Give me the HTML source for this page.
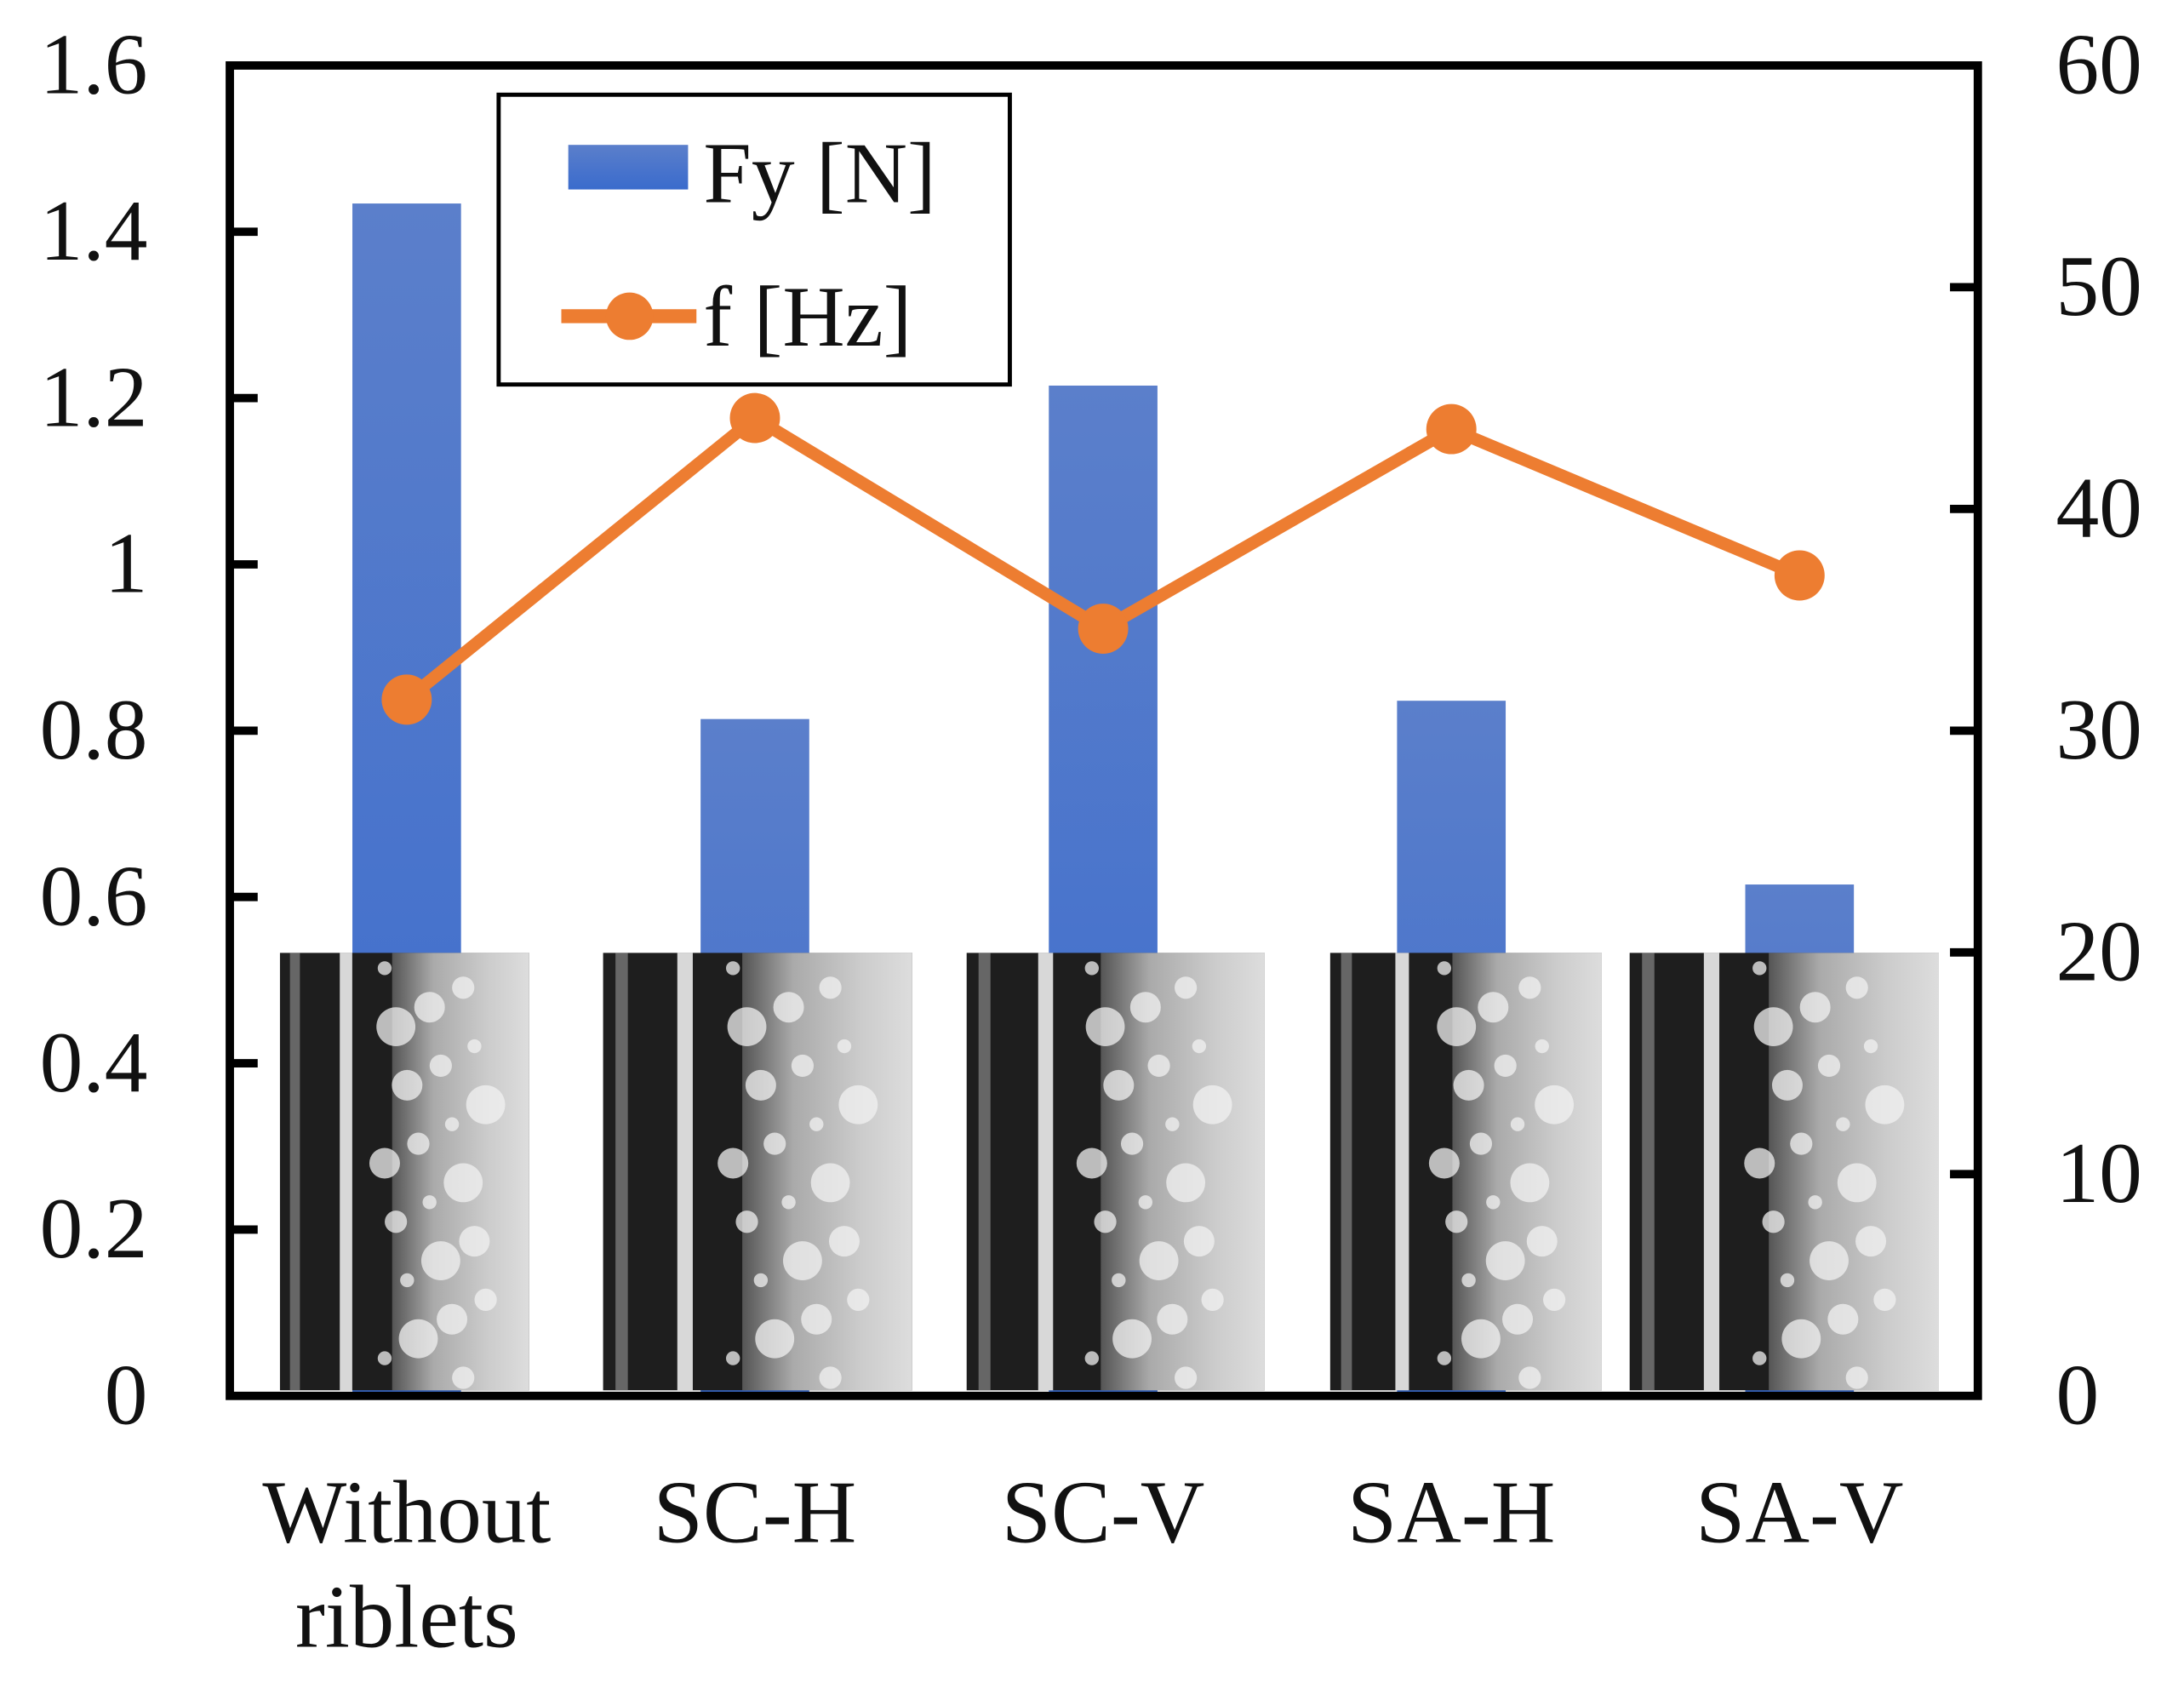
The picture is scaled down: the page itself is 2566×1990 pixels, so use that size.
<!DOCTYPE html>
<html><head><meta charset="utf-8"><style>
html,body{margin:0;padding:0;background:#fff;}
svg{display:block;}
text{font-family:"Liberation Serif",serif;fill:#111;}
</style></head><body>
<svg id="chart" width="2566" height="1990" viewBox="0 0 1568 1216" preserveAspectRatio="none" xmlns="http://www.w3.org/2000/svg">
<defs>
<linearGradient id="barg" x1="0" y1="0" x2="0" y2="1"><stop offset="0" stop-color="#5b7fcb"/><stop offset="1" stop-color="#3a6bcc"/></linearGradient>
<linearGradient id="fog" x1="0" y1="0" x2="1" y2="0"><stop offset="0" stop-color="#555"/><stop offset="0.3" stop-color="#aaa"/><stop offset="0.7" stop-color="#ccc"/><stop offset="1" stop-color="#ddd"/></linearGradient>
</defs>
<g id="bars"></g>
<g id="photos"></g>
<g id="frame"></g>
<g id="line"></g>
<g id="labels"></g>
<g>
<rect x="358" y="68" width="367" height="208" fill="#fff" stroke="#000" stroke-width="3"/>
<rect x="408" y="104" width="86" height="32" fill="url(#barg)"/>
<text x="505" y="145" font-size="62">Fy [N]</text>
<line x1="403" y1="227" x2="500" y2="227" stroke="#ed7d31" stroke-width="10"/>
<circle cx="452" cy="227" r="17" fill="#ed7d31"/>
<text x="505" y="248" font-size="62">f [Hz]</text>
</g>
</svg>
<script>
const categories=["Without riblets","SC-H","SC-V","SA-H","SA-V"];
const fyValues=[1.434,0.814,1.215,0.836,0.615];
const fValues=[31.4,44.1,34.6,43.6,37.0];
const leftTicks=[0,0.2,0.4,0.6,0.8,1,1.2,1.4,1.6];
const leftTickLabels=["0","0.2","0.4","0.6","0.8","1","1.2","1.4","1.6"];
const rightTicks=[0,10,20,30,40,50,60];
const NS="http://www.w3.org/2000/svg";
const X0=165,X1=1420,Y0=1002,Y1=47;
const yL=v=>Y0-(v/1.6)*(Y0-Y1);
const yR=v=>Y0-(v/60)*(Y0-Y1);
const xC=i=>292+i*250;
function mk(tag,attrs,parent){const e=document.createElementNS(NS,tag);for(const k in attrs)e.setAttribute(k,attrs[k]);parent.appendChild(e);return e;}
const bars=document.getElementById('bars');
fyValues.forEach((v,i)=>{
  const r=mk('rect',{x:xC(i)-39,y:yL(v),width:78,height:Y0-yL(v),fill:'url(#barg)'},bars);
  
  
});
const photos=document.getElementById('photos');
const ph=[[201,380],[433,655],[694,908],[955,1150],[1170,1392]];
ph.forEach((p,i)=>{
  const g=mk('g',{},photos);
  
  
  const w=p[1]-p[0];
  mk('rect',{x:p[0],y:684,width:w,height:314,fill:'#1e1e1e'},g);
  mk('rect',{x:p[0]+w*0.45,y:684,width:w*0.55,height:314,fill:'url(#fog)'},g);
  mk('rect',{x:p[0]+w*0.24,y:684,width:w*0.05,height:314,fill:'#d8d8d8'},g);
  mk('rect',{x:p[0]+w*0.04,y:684,width:w*0.04,height:314,fill:'#666'},g);
  for(let k=0;k<22;k++){
    mk('circle',{cx:p[0]+w*(0.42+0.045*((k*7)%10)),cy:695+k*14,r:5+(k%4)*3,fill:'#f2f2f2',opacity:0.75},g);
  }
});
const fr=document.getElementById('frame');
mk('rect',{x:X0,y:Y1,width:X1-X0,height:Y0-Y1,fill:'none',stroke:'#000','stroke-width':6},fr);
const lab=document.getElementById('labels');
leftTicks.forEach((v,i)=>{
  if(v>0&&v<1.6) mk('line',{x1:X0,y1:yL(v),x2:X0+20,y2:yL(v),stroke:'#000','stroke-width':6},fr);
  const t=mk('text',{x:106,y:yL(v)+20,'font-size':62,'text-anchor':'end'},lab);
  t.textContent=leftTickLabels[i];
  
  
});
rightTicks.forEach(v=>{
  if(v>0&&v<60) mk('line',{x1:X1-20,y1:yR(v),x2:X1,y2:yR(v),stroke:'#000','stroke-width':6},fr);
  const t=mk('text',{x:1476,y:yR(v)+20,'font-size':62},lab);
  t.textContent=String(v);
  
  
});
categories.forEach((c,i)=>{
  const parts=c==="Without riblets"?["Without","riblets"]:[c];
  parts.forEach((s,j)=>{
    const t=mk('text',{x:xC(i),y:1107+j*75,'font-size':64,'text-anchor':'middle'},lab);
    t.textContent=s;
    
    
  });
});
const ln=document.getElementById('line');
const pl=mk('polyline',{points:fValues.map((v,i)=>xC(i)+','+yR(v)).join(' '),fill:'none',stroke:'#ed7d31','stroke-width':9,'stroke-linejoin':'round'},ln);


fValues.forEach((v,i)=>{
  const c=mk('circle',{cx:xC(i),cy:yR(v),r:18,fill:'#ed7d31'},ln);
  
  
});
</script>
</body></html>
